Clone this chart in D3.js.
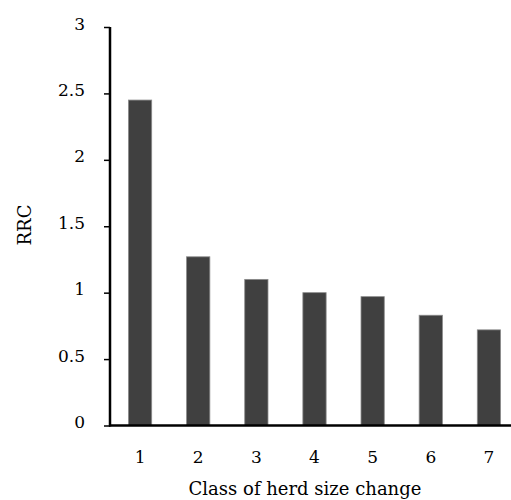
<!DOCTYPE html>
<html>
<head>
<meta charset="utf-8">
<script src="https://cdn.jsdelivr.net/npm/d3@7"></script>
<style>
  body { margin: 0; background: #fff; }
  svg text { font-family: "DejaVu Serif", serif; fill: #000; }
</style>
</head>
<body>
<div id="chart"></div>
<script>
// Data
const classes = ["1", "2", "3", "4", "5", "6", "7"];
const rrcValues = [2.45, 1.27, 1.10, 1.00, 0.97, 0.83, 0.72];
const yTicks = [0, 0.5, 1, 1.5, 2, 2.5, 3];

const width = 511;
const height = 500;
const margin = { top: 27, right: 0, bottom: 74, left: 110 };

const svg = d3.select("#chart")
  .append("svg")
  .attr("width", width)
  .attr("height", height);

// Scales
const x = d3.scaleBand()
  .domain(classes)
  .range([margin.left + 1, margin.left + 408])
  .paddingInner(0.6)
  .paddingOuter(0.3);

const y = d3.scaleLinear()
  .domain([0, 3])
  .range([height - margin.bottom - 0.5, margin.top]);

// Bars
svg.selectAll(".bar")
  .data(rrcValues)
  .enter()
  .append("rect")
  .attr("class", "bar")
  .attr("x", (d, i) => x(classes[i]))
  .attr("y", d => y(d))
  .attr("width", x.bandwidth())
  .attr("height", d => y(0) - y(d))
  .attr("fill", "#404040")
  .attr("stroke", "#8a8a8a")
  .attr("stroke-width", 0.8);

// Y axis
const yAxis = svg.append("g")
  .attr("transform", `translate(${margin.left},0)`)
  .call(d3.axisLeft(y).tickValues(yTicks).tickSize(6).tickPadding(19).tickSizeOuter(0)
    .tickFormat(d => d3.format("")(d)));

yAxis.select(".domain")
  .attr("stroke", "#000")
  .attr("stroke-width", 2.5)
  .attr("d", `M0,${y(3)}V${y(0) + 1}`);
yAxis.selectAll(".tick line").attr("stroke-width", 1.5);
yAxis.selectAll(".tick text")
  .attr("dy", "0.12em")
  .style("font-size", "17px");

// X axis
const xAxis = svg.append("g")
  .attr("transform", `translate(0,${y(0)})`)
  .call(d3.axisBottom(x).tickSize(0).tickPadding(25).tickSizeOuter(0));

xAxis.select(".domain")
  .attr("stroke", "#000")
  .attr("stroke-width", 2.5)
  .attr("d", `M${margin.left - 1},0H${width}`);
xAxis.selectAll(".tick text").style("font-size", "17px");

// Axis titles
svg.append("text")
  .attr("x", 305)
  .attr("y", 495)
  .attr("text-anchor", "middle")
  .style("font-size", "18px")
  .text("Class of herd size change");

svg.append("text")
  .attr("transform", "translate(31,225) rotate(-90)")
  .attr("text-anchor", "middle")
  .style("font-size", "18px")
  .text("RRC");
</script>
</body>
</html>
